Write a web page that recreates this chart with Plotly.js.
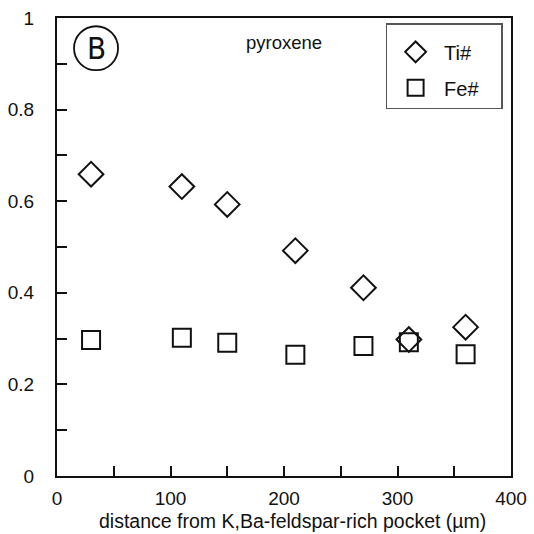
<!DOCTYPE html>
<html>
<head>
<meta charset="utf-8">
<script src="https://cdn.plot.ly/plotly-3.0.1.min.js"></script>
<style>html,body{margin:0;padding:0;background:#fff;}#chart{width:534px;height:534px;}</style>
</head>
<body>
<div id="chart"></div>
<script>
// Data
var distance = [30, 110, 150, 210, 270, 310, 360];
var tiNumber = [0.659, 0.632, 0.593, 0.492, 0.411, 0.298, 0.325];
var feNumber = [0.297, 0.302, 0.291, 0.265, 0.284, 0.292, 0.266];
var seriesNames = ['Ti#', 'Fe#'];
var xTickVals = [0, 100, 200, 300, 400];
var yTickVals = [0, 0.2, 0.4, 0.6, 0.8, 1];
var yTickText = ['0', '0.2', '0.4', '0.6', '0.8', '1'];
var xTitle = 'distance from K,Ba-feldspar-rich pocket (µm)';

var FONT = 'Liberation Sans, Arial, sans-serif';
var PAD = '\u00a0\u00a0\u00a0';

var traces = [
  {
    x: distance, y: tiNumber, name: seriesNames[0] + PAD, type: 'scatter', mode: 'markers',
    legendgroup: 'a',
    marker: {symbol: 'diamond-open', size: 19, color: '#111', line: {color: '#111', width: 2}}
  },
  {
    x: distance, y: feNumber, name: seriesNames[1] + PAD, type: 'scatter', mode: 'markers',
    legendgroup: 'b',
    marker: {symbol: 'square-open', size: 18, color: '#111', line: {color: '#111', width: 2}}
  }
];

var layout = {
  width: 534, height: 534,
  margin: {l: 57, r: 23, t: 18, b: 58},
  paper_bgcolor: '#fff', plot_bgcolor: '#fff',
  font: {family: FONT, color: '#111', size: 18},
  showlegend: true,
  legend: {
    x: 0.9815, y: 0.989, xanchor: 'right', yanchor: 'top',
    bordercolor: '#555', borderwidth: 1.5, bgcolor: '#fff',
    font: {family: FONT, size: 20, color: '#111'},
    title: {text: '\u00a0', font: {family: FONT, size: 6}},
    tracegroupgap: 7, itemwidth: 47
  },
  xaxis: {
    range: [0, 400], tickvals: xTickVals, ticktext: xTickVals.map(String),
    ticks: 'inside', ticklen: 10, tickwidth: 2, tickcolor: '#111',
    minor: {dtick: 50, ticks: 'inside', ticklen: 10, tickwidth: 2, tickcolor: '#111', showgrid: false},
    showline: true, linewidth: 2, linecolor: '#111', mirror: true,
    showgrid: false, zeroline: false,
    tickfont: {family: FONT, size: 19, color: '#111'},
    ticklabelstandoff: 4
  },
  yaxis: {
    range: [0, 1], tickvals: yTickVals, ticktext: yTickText,
    ticks: 'inside', ticklen: 10, tickwidth: 2, tickcolor: '#111',
    minor: {dtick: 0.1, ticks: 'inside', ticklen: 10, tickwidth: 2, tickcolor: '#111', showgrid: false},
    showline: true, linewidth: 2, linecolor: '#111', mirror: true,
    showgrid: false, zeroline: false,
    tickfont: {family: FONT, size: 19, color: '#111'},
    ticklabelstandoff: 17
  },
  shapes: [
    {type: 'circle', xref: 'x', yref: 'y', x0: 15, x1: 53.8, y0: 0.886, y1: 0.982,
     line: {color: '#111', width: 1.8}}
  ],
  annotations: [
    {xref: 'x', yref: 'y', x: 34.4, y: 0.934, text: 'B', showarrow: false,
     font: {family: 'Liberation Sans Narrow, DejaVu Sans Condensed, Arial Narrow, sans-serif', size: 31, color: '#111'}},
    {xref: 'x', yref: 'y', x: 200, y: 0.947, text: 'pyroxene', showarrow: false,
     font: {family: FONT, size: 18.5, color: '#111'}},
    {xref: 'paper', yref: 'paper', x: 0.519, y: -0.098, xanchor: 'center', yanchor: 'middle',
     text: xTitle, showarrow: false, font: {family: FONT, size: 19.5, color: '#111'}}
  ]
};

Plotly.newPlot('chart', traces, layout, {displayModeBar: false, staticPlot: true});
</script>
</body>
</html>
